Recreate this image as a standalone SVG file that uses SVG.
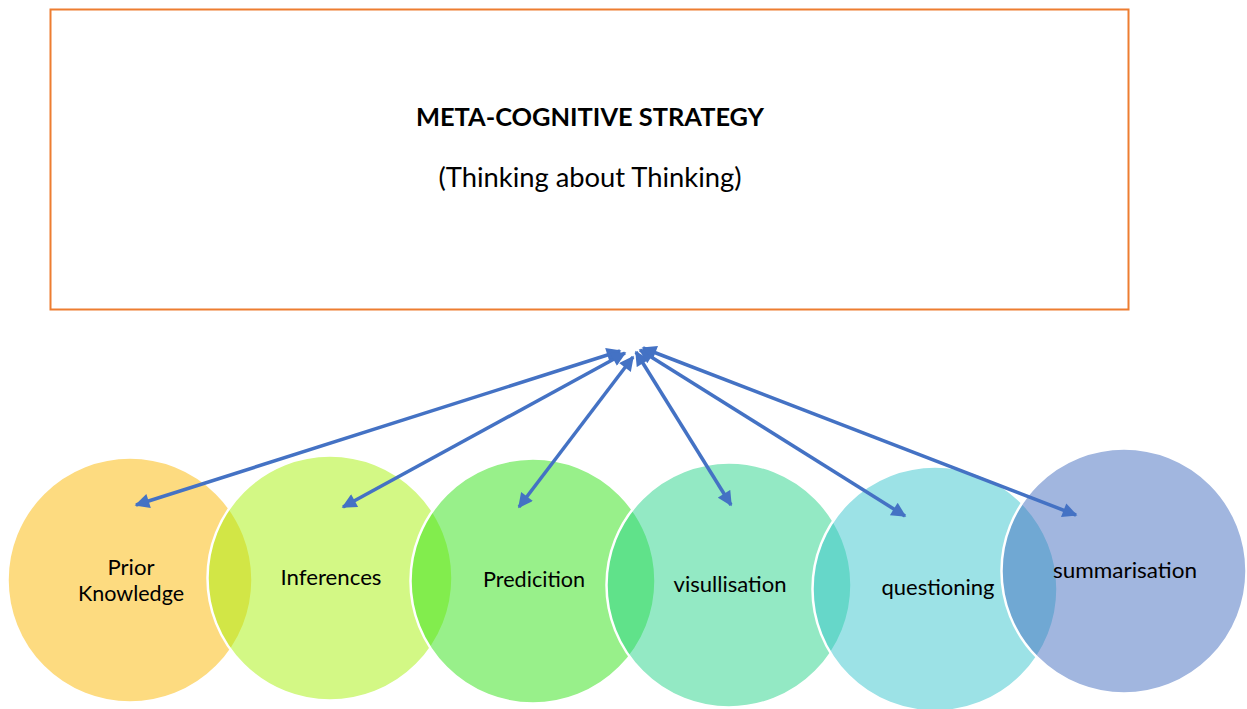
<svg xmlns="http://www.w3.org/2000/svg" width="1247" height="709" viewBox="0 0 1247 709">
<defs>
<style>
.lbl{font-family:Lato,"Open Sans","Liberation Sans",sans-serif;font-size:22px;fill:#000;text-anchor:middle}
.circ{fill-opacity:0.5;stroke:#fff;stroke-width:2.5}
.conn{stroke:#4472C4;stroke-width:3.5;fill:none;marker-start:url(#ah);marker-end:url(#ah)}
</style>
<marker id="ah" viewBox="0 0 10 10" refX="9" refY="5" markerWidth="4.6" markerHeight="4.2" orient="auto-start-reverse" markerUnits="strokeWidth">
<path d="M0,0 L10,5 L0,10 z" fill="#4472C4"/>
</marker>
</defs>
<rect width="1247" height="709" fill="#fff"/>
<g id="title-box">
<rect x="50.5" y="9.5" width="1078" height="300" fill="#fff" stroke="#ED7D31" stroke-width="2"/>
<text x="590" y="126" font-family="Lato,'Open Sans','Liberation Sans',sans-serif" font-size="24" font-weight="bold" text-anchor="middle" textLength="348" lengthAdjust="spacingAndGlyphs">META-COGNITIVE STRATEGY</text>
<text x="590" y="187" font-family="Lato,'Open Sans','Liberation Sans',sans-serif" font-size="26" text-anchor="middle" textLength="303" lengthAdjust="spacingAndGlyphs">(Thinking about Thinking)</text>
</g>
<g id="c1"><circle class="circ" cx="130" cy="580" r="122.5" fill="#FBB701"/></g>
<g id="c2"><circle class="circ" cx="330" cy="578" r="122.5" fill="#A7F10B"/></g>
<g id="c3"><circle class="circ" cx="533" cy="581" r="122.5" fill="#31E115"/></g>
<g id="c4"><circle class="circ" cx="729" cy="585" r="122.5" fill="#27D389"/></g>
<g id="c5"><circle class="circ" cx="935" cy="589" r="122.5" fill="#39C5CD"/></g>
<g id="c6"><circle class="circ" cx="1124" cy="571" r="122.5" fill="#436DBF"/></g>
<g id="labels">
<text class="lbl" x="131" y="575" textLength="47" lengthAdjust="spacingAndGlyphs">Prior</text>
<text class="lbl" x="131" y="601" textLength="106" lengthAdjust="spacingAndGlyphs">Knowledge</text>
<text class="lbl" x="331" y="585" textLength="101" lengthAdjust="spacingAndGlyphs">Inferences</text>
<text class="lbl" x="534" y="587" textLength="102" lengthAdjust="spacingAndGlyphs">Predicition</text>
<text class="lbl" x="730" y="592" textLength="113" lengthAdjust="spacingAndGlyphs">visullisation</text>
<text class="lbl" x="938" y="595" textLength="113" lengthAdjust="spacingAndGlyphs">questioning</text>
<text class="lbl" x="1125" y="578" textLength="144" lengthAdjust="spacingAndGlyphs">summarisation</text>
</g>
<g id="connectors">
<line class="conn" x1="620" y1="351" x2="136" y2="505"/>
<line class="conn" x1="625" y1="353" x2="343" y2="507"/>
<line class="conn" x1="633" y1="357" x2="519" y2="507"/>
<line class="conn" x1="636" y1="352" x2="731" y2="505"/>
<line class="conn" x1="640" y1="350" x2="905" y2="516"/>
<line class="conn" x1="643" y1="348" x2="1076" y2="515"/>
</g>
</svg>
